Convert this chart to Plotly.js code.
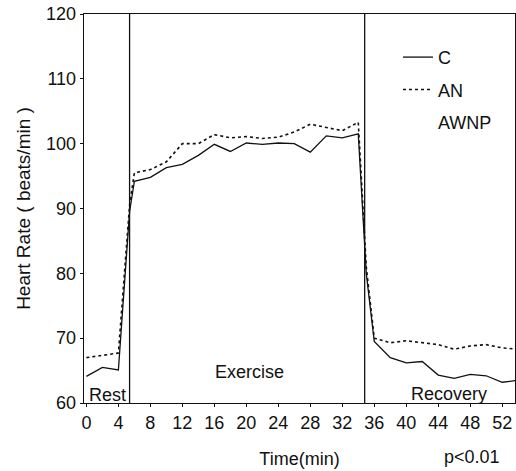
<!DOCTYPE html>
<html>
<head>
<meta charset="utf-8">
<script src="https://cdn.plot.ly/plotly-3.0.1.min.js"></script>
<style>html,body{margin:0;padding:0;background:#fff;}#chart{width:516px;height:471px;}</style>
</head>
<body>
<div id="chart"></div>
<script>
// Time (min)
const timeC  = [0, 2, 4, 5.4, 6, 8, 10, 12, 14, 16, 18, 20, 22, 24, 26, 28, 30, 32, 34, 35, 36, 38, 40, 42, 44, 46, 48, 50, 52, 54];
// Heart rate, group C (solid)
const hrC    = [64.1, 65.5, 65.1, 89.5, 94.2, 94.8, 96.3, 96.8, 98.2, 99.9, 98.8, 100.1, 99.9, 100.1, 100, 98.7, 101.2, 100.9, 101.5, 80, 69.5, 67, 66.2, 66.4, 64.3, 63.8, 64.4, 64.2, 63.2, 63.5];
// Heart rate, group AN (dotted)
const hrAN   = [67, 67.3, 67.7, 90.5, 95.5, 96, 97.2, 100, 100, 101.4, 100.9, 101.1, 100.8, 101, 101.8, 103, 102.5, 102, 103.3, 81, 70, 69.3, 69.6, 69.3, 69, 68.3, 68.8, 69, 68.5, 68.3];
const seriesNames = ["C", "AN", "AWNP"];
const phaseBounds = [5.4, 34.8];
const phaseLabels = [{t: 2.6, v: 61.3, text: "Rest"}, {t: 20.4, v: 64.8, text: "Exercise"}, {t: 45.4, v: 61.4, text: "Recovery"}];
const xTicks = [0, 4, 8, 12, 16, 20, 24, 28, 32, 36, 40, 44, 48, 52];
const yTicks = [60, 70, 80, 90, 100, 110, 120];

const FONT = "Liberation Sans, Arial, sans-serif";
const FS = 18;

const traces = [
  {x: timeC, y: hrC, name: seriesNames[0], mode: "lines", legendgroup: "a",
   line: {color: "#111", width: 1.3}},
  {x: timeC, y: hrAN, name: seriesNames[1], mode: "lines", legendgroup: "b",
   line: {color: "#111", width: 1.6, dash: "dot"}},
  {x: [null], y: [null], name: seriesNames[2], mode: "lines", legendgroup: "c",
   line: {color: "rgba(0,0,0,0)", width: 1}}
];

const shapes = phaseBounds.map(t => ({
  type: "line", xref: "x", yref: "paper", x0: t, x1: t, y0: 0, y1: 1,
  line: {color: "#111", width: 1.3}
}));

const annotations = phaseLabels.map(p => ({
  x: p.t, y: p.v, xref: "x", yref: "y", text: p.text, showarrow: false,
  font: {family: FONT, size: FS, color: "#111"}
}));
annotations.push({x: 1, y: 0, xref: "paper", yref: "paper", xanchor: "right", yanchor: "top",
  yshift: -42, xshift: -13, text: "p<0.01", showarrow: false, font: {family: FONT, size: FS, color: "#111"}});

const layout = {
  width: 516, height: 471,
  margin: {l: 84, r: 1, t: 14, b: 68},
  paper_bgcolor: "#fff", plot_bgcolor: "#fff",
  font: {family: FONT, size: FS, color: "#111"},
  showlegend: true,
  legend: {x: 0.7285, y: 0.936, xanchor: "left", yanchor: "top", bgcolor: "rgba(0,0,0,0)",
    font: {family: FONT, size: FS, color: "#111"}, traceorder: "grouped", tracegroupgap: 6},
  xaxis: {range: [-0.3, 53.6], tickvals: xTicks, ticks: "outside", ticklen: 3, tickcolor: "#111",
    showgrid: false, zeroline: false, showline: true, linecolor: "#111", linewidth: 1.3, mirror: true,
    tickfont: {family: FONT, size: FS, color: "#111"},
    title: {text: "Time(min)", font: {family: FONT, size: FS, color: "#111"}, standoff: 20}},
  yaxis: {range: [60, 120], tickvals: yTicks, ticks: "outside", ticklen: 3, tickcolor: "#111",
    showgrid: false, zeroline: false, showline: true, linecolor: "#111", linewidth: 1.3, mirror: true,
    tickfont: {family: FONT, size: FS, color: "#111"},
    title: {text: "Heart Rate ( beats/min )", font: {family: FONT, size: 19, color: "#111"}, standoff: 10}},
  shapes: shapes,
  annotations: annotations
};

Plotly.newPlot("chart", traces, layout, {displayModeBar: false, staticPlot: true});
</script>
</body>
</html>
